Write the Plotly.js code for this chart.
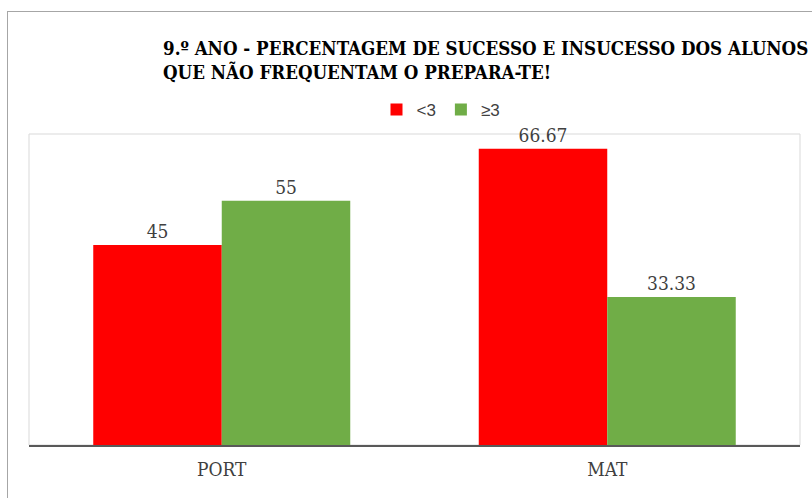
<!DOCTYPE html>
<html><head><meta charset="utf-8">
<script src="https://cdn.plot.ly/plotly-3.0.1.min.js"></script>
<style>
html,body{margin:0;padding:0;background:#fff;}
#wrap{position:relative;width:812px;height:498px;}
#chart{position:absolute;left:0;top:0;width:812px;height:498px;}
#frame{position:absolute;left:7px;top:11px;width:820px;height:500px;border-left:1px solid #a6a6a6;border-top:1px solid #a6a6a6;pointer-events:none;}
</style></head>
<body>
<div id="wrap"><div id="chart"></div><div id="frame"></div></div>
<script>
const categories = ["PORT", "MAT"];
const seriesNames = ["<3", "≥3"];
const lowValues = [45, 66.67];
const highValues = [55, 33.33];
const titleText = "9.º ANO - PERCENTAGEM DE SUCESSO E INSUCESSO DOS ALUNOS<br>QUE NÃO FREQUENTAM O PREPARA-TE!";

const serif = "DejaVu Serif Condensed, DejaVu Serif, serif";
const labelFont = {family: serif, size: 19, color: "#404040"};

const traces = [
  {type: "bar", name: seriesNames[0], x: categories, y: lowValues,
   marker: {color: "#ff0000"}, text: lowValues.map(String), textposition: "outside",
   textfont: labelFont, cliponaxis: false, hoverinfo: "none"},
  {type: "bar", name: seriesNames[1], x: categories, y: highValues,
   marker: {color: "#70ad47"}, text: highValues.map(String), textposition: "outside",
   textfont: labelFont, cliponaxis: false, hoverinfo: "none"}
];

const layout = {
  width: 812, height: 498,
  margin: {l: 29, r: 12, t: 134, b: 53},
  paper_bgcolor: "#ffffff", plot_bgcolor: "#ffffff",
  barmode: "group", bargap: 1/3, bargroupgap: 0,
  title: {text: titleText, x: 163/812, xanchor: "left", xref: "container",
    y: 1 - 55/498, yanchor: "top", yref: "container",
    font: {family: serif, size: 18.6, color: "#000000", weight: "bold"}},
  showlegend: true,
  legend: {orientation: "h", x: (441-29)/771, xanchor: "center", y: (445-110)/311, yanchor: "middle",
    font: {family: "Liberation Sans, Arial, sans-serif", size: 17, color: "#404040"},
    itemwidth: 30, traceorder: "normal"},
  xaxis: {showline: true, linecolor: "#595959", linewidth: 2, ticks: "", showgrid: false,
    ticklabelstandoff: 6,
    tickfont: {family: serif, size: 19, color: "#404040"}, fixedrange: true},
  yaxis: {range: [0, 70], showgrid: false, showticklabels: false, zeroline: false, ticks: "", fixedrange: true},
  shapes: [{type: "rect", xref: "paper", yref: "paper", x0: 0, x1: 1, y0: 0, y1: 1,
    line: {color: "#d9d9d9", width: 1}, layer: "below"}]
};

Plotly.newPlot("chart", traces, layout, {displayModeBar: false, staticPlot: true});
</script>
</body></html>
